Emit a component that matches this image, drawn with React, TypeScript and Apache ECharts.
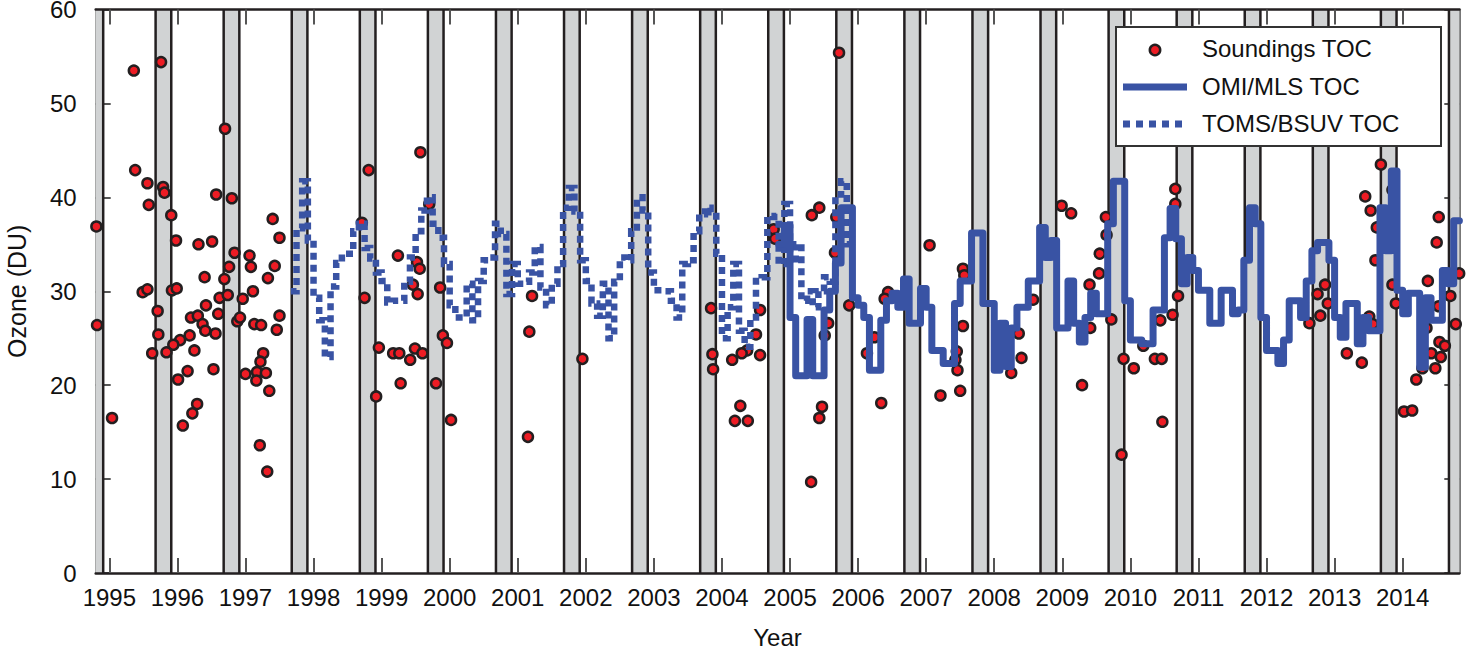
import React, { useEffect, useRef } from "react";
import * as echarts from "echarts";

// ---------- data ----------
const YEAR_TICKS = [1995, 1996, 1997, 1998, 1999, 2000, 2001, 2002, 2003, 2004, 2005, 2006, 2007, 2008, 2009, 2010, 2011, 2012, 2013, 2014];
const Y_TICKS = [0, 10, 20, 30, 40, 50, 60];
const X_MIN = 1994.8;
const X_MAX = 2014.832;

// grey seasonal bands [start, end] in decimal years
const BANDS: [number, number][] = [
  [1994.68, 1994.91], [1995.68, 1995.91], [1996.68, 1996.91], [1997.68, 1997.91],
  [1998.68, 1998.91], [1999.68, 1999.91], [2000.68, 2000.91], [2001.68, 2001.91],
  [2002.68, 2002.91], [2003.68, 2003.91], [2004.68, 2004.91], [2005.68, 2005.91],
  [2006.68, 2006.91], [2007.68, 2007.91], [2008.68, 2008.91], [2009.68, 2009.91],
  [2010.68, 2010.91], [2011.68, 2011.91], [2012.68, 2012.91], [2013.68, 2013.91],
  [2014.68, 2014.91],
];

// ozonesonde total ozone column [decimal year, DU]
const SOUNDINGS: [number, number][] = [
  [1994.81, 36.9], [1994.82, 26.4], [1995.04, 16.5], [1995.36, 53.5], [1995.76, 54.4], [1995.38, 42.9],
  [1995.56, 41.5], [1995.58, 39.2], [1995.79, 41.1], [1995.81, 40.5], [1995.91, 38.1], [1995.98, 35.4],
  [1996.70, 47.3], [1996.57, 40.3], [1996.80, 39.9], [1997.40, 37.7], [1997.50, 35.7], [1996.31, 35.0],
  [1996.51, 35.3], [1996.84, 34.1], [1997.06, 33.8], [1997.08, 32.6], [1996.76, 32.6], [1997.43, 32.7],
  [1997.33, 31.4], [1996.40, 31.5], [1996.69, 31.3], [1995.49, 29.9], [1995.56, 30.2], [1995.92, 30.1],
  [1995.99, 30.3], [1996.62, 29.3], [1996.74, 29.6], [1996.96, 29.2], [1997.11, 30.0], [1996.42, 28.5],
  [1996.60, 27.6], [1995.71, 27.9], [1996.20, 27.2], [1996.30, 27.4], [1996.37, 26.5], [1996.41, 25.8],
  [1996.56, 25.5], [1996.88, 26.8], [1996.92, 27.2], [1997.13, 26.5], [1997.23, 26.4], [1997.50, 27.4],
  [1997.46, 25.9], [1995.72, 25.4], [1996.18, 25.3], [1996.04, 24.8], [1995.94, 24.3], [1995.63, 23.4],
  [1995.84, 23.5], [1996.25, 23.7], [1997.26, 23.4], [1997.22, 22.5], [1997.17, 21.4], [1997.30, 21.3],
  [1997.16, 20.5], [1997.00, 21.2], [1996.53, 21.7], [1996.15, 21.5], [1996.01, 20.6], [1997.35, 19.4],
  [1996.29, 18.0], [1996.22, 17.0], [1996.08, 15.7], [1997.21, 13.6], [1997.32, 10.8],
  [1999.57, 44.8], [1998.81, 42.9], [1999.70, 39.3], [1998.71, 37.3], [1999.24, 33.8], [1999.52, 33.1],
  [1999.56, 32.4], [1999.46, 30.7], [1999.53, 29.7], [1999.86, 30.4], [1998.75, 29.3], [2001.21, 29.5],
  [2001.17, 25.7], [1999.90, 25.3], [1999.96, 24.5], [1998.96, 24.0], [1999.17, 23.4], [1999.26, 23.4],
  [1999.49, 23.9], [1999.60, 23.4], [1999.42, 22.7], [1999.28, 20.2], [1999.80, 20.2], [1998.92, 18.8],
  [2000.02, 16.3], [2001.15, 14.5],
  [2001.95, 22.8], [2003.84, 28.2], [2003.86, 23.3], [2003.87, 21.7], [2004.15, 22.7], [2004.37, 23.7],
  [2004.29, 23.4], [2004.56, 28.0], [2004.50, 25.4], [2004.56, 23.2], [2004.27, 17.8], [2004.19, 16.2],
  [2004.38, 16.2], [2004.76, 36.6], [2004.78, 35.6],
  [2005.72, 55.4], [2005.43, 38.9], [2005.32, 38.1], [2005.68, 37.9], [2005.66, 34.1], [2007.05, 34.9],
  [2007.54, 32.4], [2007.56, 31.7], [2005.87, 28.5], [2006.44, 29.9], [2006.39, 29.2], [2007.54, 26.3],
  [2005.56, 26.6], [2005.51, 25.3], [2006.24, 25.1], [2006.13, 23.4], [2007.45, 23.6], [2007.43, 22.7],
  [2007.46, 21.6], [2007.50, 19.4], [2007.21, 18.9], [2006.34, 18.1], [2005.47, 17.7], [2005.43, 16.5],
  [2005.31, 9.7], [2008.25, 21.3],
  [2008.99, 39.1], [2009.13, 38.3], [2009.64, 37.9], [2009.65, 36.0], [2009.55, 34.0], [2009.54, 31.9],
  [2009.40, 30.7], [2008.57, 29.1], [2009.72, 27.0], [2009.41, 26.1], [2008.36, 25.5], [2008.40, 22.9],
  [2009.29, 20.0], [2010.66, 40.9], [2010.66, 39.3], [2010.70, 29.5], [2010.62, 27.5], [2010.44, 26.9],
  [2010.19, 24.2], [2009.90, 22.8], [2010.05, 21.8], [2010.36, 22.8], [2010.46, 22.8], [2010.47, 16.1],
  [2009.87, 12.6],
  [2013.68, 43.5], [2013.45, 40.1], [2013.53, 38.6], [2013.62, 36.8], [2013.85, 40.8], [2013.60, 33.3],
  [2014.53, 37.9], [2014.50, 35.2], [2014.37, 31.1], [2014.83, 31.9], [2012.86, 30.7], [2012.75, 29.7],
  [2012.90, 28.7], [2012.79, 27.4], [2012.63, 26.6], [2013.85, 30.7], [2013.90, 28.7], [2013.51, 27.3],
  [2013.56, 26.5], [2013.45, 26.3], [2014.78, 26.5], [2014.70, 29.5], [2014.53, 28.4], [2014.54, 24.6],
  [2014.62, 24.2], [2014.42, 23.4], [2014.56, 23.0], [2014.48, 21.8], [2014.29, 21.8], [2014.20, 20.6],
  [2014.02, 17.2], [2014.14, 17.3], [2013.18, 23.4], [2013.40, 22.4], [2014.35, 26.1],
];

// TOMS/BSUV monthly TOC, starting September 1997
const TOMS_START = 1997 + 8 / 12;
const TOMS_VALUES = [
  30.0, 36.7, 41.7, 35.4,
  29.3, 26.9, 23.0, 30.5, 33.0, 34.0, 34.0, 36.4, 37.2, 34.6, 33.5, 32.0,
  31.1, 28.8, 29.0, 29.0, 31.0, 33.6, 36.4, 38.6, 40.0, 37.2, 35.7, 32.9,
  28.5, 27.2, 27.2, 30.8, 26.9, 31.1, 33.3, 33.6, 37.2, 36.1, 29.7, 32.9,
  30.8, 31.0, 32.0, 34.7, 30.4, 28.5, 30.8, 32.9, 38.9, 41.0, 38.5, 33.3,
  31.1, 28.7, 27.4, 30.8, 25.0, 31.0, 33.6, 33.3, 36.4, 40.0, 38.6, 32.0,
  30.1, 30.1, 30.0, 29.0, 27.2, 32.9, 33.3, 36.4, 38.2, 38.9, 38.4, 34.0,
  25.0, 28.3, 32.9, 25.8, 24.1, 27.2, 31.1, 31.5, 38.0, 37.9, 32.9, 39.3,
  33.0, 35.0, 29.0, 30.0, 28.3, 30.0, 31.5, 31.0, 40.3, 41.7, 35.0,
];

// OMI/MLS monthly TOC, starting November 2004
const OMI_START = 2004 + 10 / 12;
const OMI_VALUES = [
  35.0, 37.0,
  27.2, 21.0, 21.0, 27.0, 21.0, 21.0, 28.0, 30.0, 33.0, 38.9, 38.9, 29.3,
  28.5, 27.2, 21.6, 21.6, 26.9, 29.0, 29.8, 28.3, 31.3, 26.6, 26.6, 30.3,
  28.3, 23.7, 23.7, 22.3, 22.3, 28.7, 31.1, 31.1, 36.2, 36.2, 28.7, 28.7,
  21.6, 26.6, 22.0, 26.1, 28.3, 28.3, 31.1, 31.1, 36.8, 33.6, 35.4, 26.1,
  26.1, 31.1, 26.6, 24.6, 27.2, 29.8, 27.6, 27.6, 37.2, 41.7, 41.7, 29.0,
  24.8, 24.8, 24.4, 24.4, 28.0, 28.0, 35.7, 38.8, 35.6, 30.8, 33.6, 32.2,
  30.1, 30.1, 26.6, 26.6, 30.1, 30.1, 27.6, 28.0, 33.3, 38.9, 37.2, 27.2,
  23.7, 23.7, 22.3, 24.8, 29.0, 29.0, 27.2, 31.1, 34.3, 35.2, 35.2, 33.3,
  27.2, 25.1, 28.7, 28.7, 24.4, 27.2, 25.8, 25.8, 38.9, 34.3, 42.8, 30.1,
  27.6, 29.8, 29.8, 21.9, 29.3, 26.9, 26.9, 32.2, 30.8, 37.5,
];

const SERIES_NAMES = ["Soundings TOC", "OMI/MLS TOC", "TOMS/BSUV TOC"];

// ---------- style ----------
const FONT = '"Liberation Sans", Arial, Helvetica, sans-serif';
const BLUE = "#3953a4";
const RED = "#ed1c24";
const DARK = "#231f20";
const BAND_FILL = "#d1d3d4";

function monthly(start: number, values: number[]): [number, number][] {
  const pts: [number, number][] = values.map((v, i) => [start + i / 12, v]);
  pts.push([start + values.length / 12, values[values.length - 1]]);
  return pts;
}

export default function App() {
  const ref = useRef<HTMLDivElement>(null);

  useEffect(() => {
    if (!ref.current) return;
    const chart = echarts.init(ref.current, undefined, { renderer: "svg" });

    const tickStyle = { show: true, inside: true, length: 15, lineStyle: { color: "#555", width: 2 } };
    const LZ = 100;

    const option: any = {
      animation: false,
      backgroundColor: "#ffffff",
      grid: { left: 95.7, right: 7.7, top: 9.5, bottom: 77, containLabel: false, outerBoundsMode: "none" },
      xAxis: [
        {
          type: "value",
          min: X_MIN,
          max: X_MAX,
          position: "bottom",
          z: 10,
          name: "Year",
          nameLocation: "middle",
          nameGap: 54,
          nameTextStyle: { fontFamily: FONT, fontSize: 24, lineHeight: 20, color: "#111" },
          axisLine: { show: true, onZero: false, lineStyle: { color: DARK, width: 2.5 } },
          axisTick: { ...tickStyle, customValues: YEAR_TICKS },
          axisLabel: { show: true, customValues: YEAR_TICKS, margin: 12, fontFamily: FONT, fontSize: 24, color: "#111", formatter: (v: number) => String(Math.round(v)) },
          splitLine: { show: false },
        },
        {
          type: "value",
          min: X_MIN,
          max: X_MAX,
          position: "top",
          z: 10,
          axisLine: { show: true, onZero: false, lineStyle: { color: DARK, width: 2.5 } },
          axisTick: { ...tickStyle, customValues: YEAR_TICKS },
          axisLabel: { show: false },
          splitLine: { show: false },
        },
      ],
      yAxis: [
        {
          type: "value",
          min: 0,
          max: 60,
          interval: 10,
          position: "left",
          z: 0,
          name: "Ozone (DU)",
          nameLocation: "middle",
          nameGap: 67,
          nameTextStyle: { fontFamily: FONT, fontSize: 25, lineHeight: 24, color: "#111" },
          axisLine: { show: true, onZero: false, lineStyle: { color: "#999", width: 2 } },
          axisTick: { ...tickStyle, customValues: Y_TICKS },
          axisLabel: { show: true, margin: 19, fontFamily: FONT, fontSize: 24, lineHeight: 16, color: "#111" },
          splitLine: { show: false },
        },
        {
          type: "value",
          min: 0,
          max: 60,
          interval: 10,
          position: "right",
          z: 0,
          axisLine: { show: true, onZero: false, lineStyle: { color: "#777", width: 2 } },
          axisTick: { ...tickStyle, customValues: Y_TICKS },
          axisLabel: { show: false },
          splitLine: { show: false },
        },
      ],
      series: [
        {
          type: "custom",
          name: "bands",
          silent: true,
          z: 1,
          xAxisIndex: 0,
          yAxisIndex: 0,
          encode: { x: [0, 1] },
          data: BANDS,
          renderItem: (params: any, api: any) => {
            const s = api.value(0);
            const e = api.value(1);
            const a = api.coord([s, 60]);
            const b = api.coord([e, 0]);
            const cs = params.coordSys;
            const left = Math.max(a[0], cs.x);
            const right = Math.min(b[0], cs.x + cs.width);
            if (right <= left) return null;
            const children: any[] = [
              { type: "rect", shape: { x: left, y: cs.y, width: right - left, height: cs.height }, style: { fill: BAND_FILL } },
            ];
            if (a[0] >= cs.x) {
              children.push({ type: "line", shape: { x1: a[0], y1: cs.y, x2: a[0], y2: cs.y + cs.height }, style: { stroke: DARK, lineWidth: 2.5 } });
            }
            if (b[0] <= cs.x + cs.width) {
              children.push({ type: "line", shape: { x1: b[0], y1: cs.y, x2: b[0], y2: cs.y + cs.height }, style: { stroke: DARK, lineWidth: 2.5 } });
            }
            return { type: "group", children };
          },
        },
        {
          type: "scatter",
          name: SERIES_NAMES[0],
          z: 3,
          clip: false,
          symbol: "circle",
          symbolSize: 10,
          itemStyle: { color: RED, borderColor: DARK, borderWidth: 2.5, opacity: 1 },
          data: SOUNDINGS,
        },
        {
          type: "line",
          name: SERIES_NAMES[2],
          z: 4,
          step: "end",
          showSymbol: false,
          symbol: "none",
          lineStyle: { color: BLUE, width: 6.5, type: [7, 5], cap: "butt", join: "miter" },
          data: monthly(TOMS_START, TOMS_VALUES),
        },
        {
          type: "line",
          name: SERIES_NAMES[1],
          z: 5,
          step: "end",
          showSymbol: false,
          symbol: "none",
          lineStyle: { color: BLUE, width: 7, cap: "round", join: "round" },
          data: monthly(OMI_START, OMI_VALUES),
        },
      ],
      graphic: [
        { type: "rect", z: LZ, shape: { x: 1116, y: 27, width: 325, height: 119 }, style: { fill: "#fff", stroke: "#333", lineWidth: 2 } },
        { type: "circle", z: LZ + 1, shape: { cx: 1155, cy: 50, r: 5.2 }, style: { fill: RED, stroke: DARK, lineWidth: 2.5 } },
        { type: "line", z: LZ + 1, shape: { x1: 1123, y1: 87, x2: 1187, y2: 87 }, style: { stroke: BLUE, lineWidth: 7 } },
        { type: "line", z: LZ + 1, shape: { x1: 1123, y1: 124, x2: 1185, y2: 124 }, style: { stroke: BLUE, lineWidth: 7, lineDash: [7, 6] } },
        { type: "text", z: LZ + 1, x: 1202, y: 48, style: { text: SERIES_NAMES[0], fontFamily: FONT, fontSize: 24, fill: "#111", verticalAlign: "middle", align: "left" } },
        { type: "text", z: LZ + 1, x: 1202, y: 86, style: { text: SERIES_NAMES[1], fontFamily: FONT, fontSize: 24, fill: "#111", verticalAlign: "middle", align: "left" } },
        { type: "text", z: LZ + 1, x: 1202, y: 123, style: { text: SERIES_NAMES[2], fontFamily: FONT, fontSize: 24, fill: "#111", verticalAlign: "middle", align: "left" } },
      ],
    };

    chart.setOption(option);
    return () => chart.dispose();
  }, []);

  return (
    <div
      ref={ref}
      style={{ position: "fixed", left: 0, top: 0, width: 1467, height: 650, background: "#fff" }}
    />
  );
}
